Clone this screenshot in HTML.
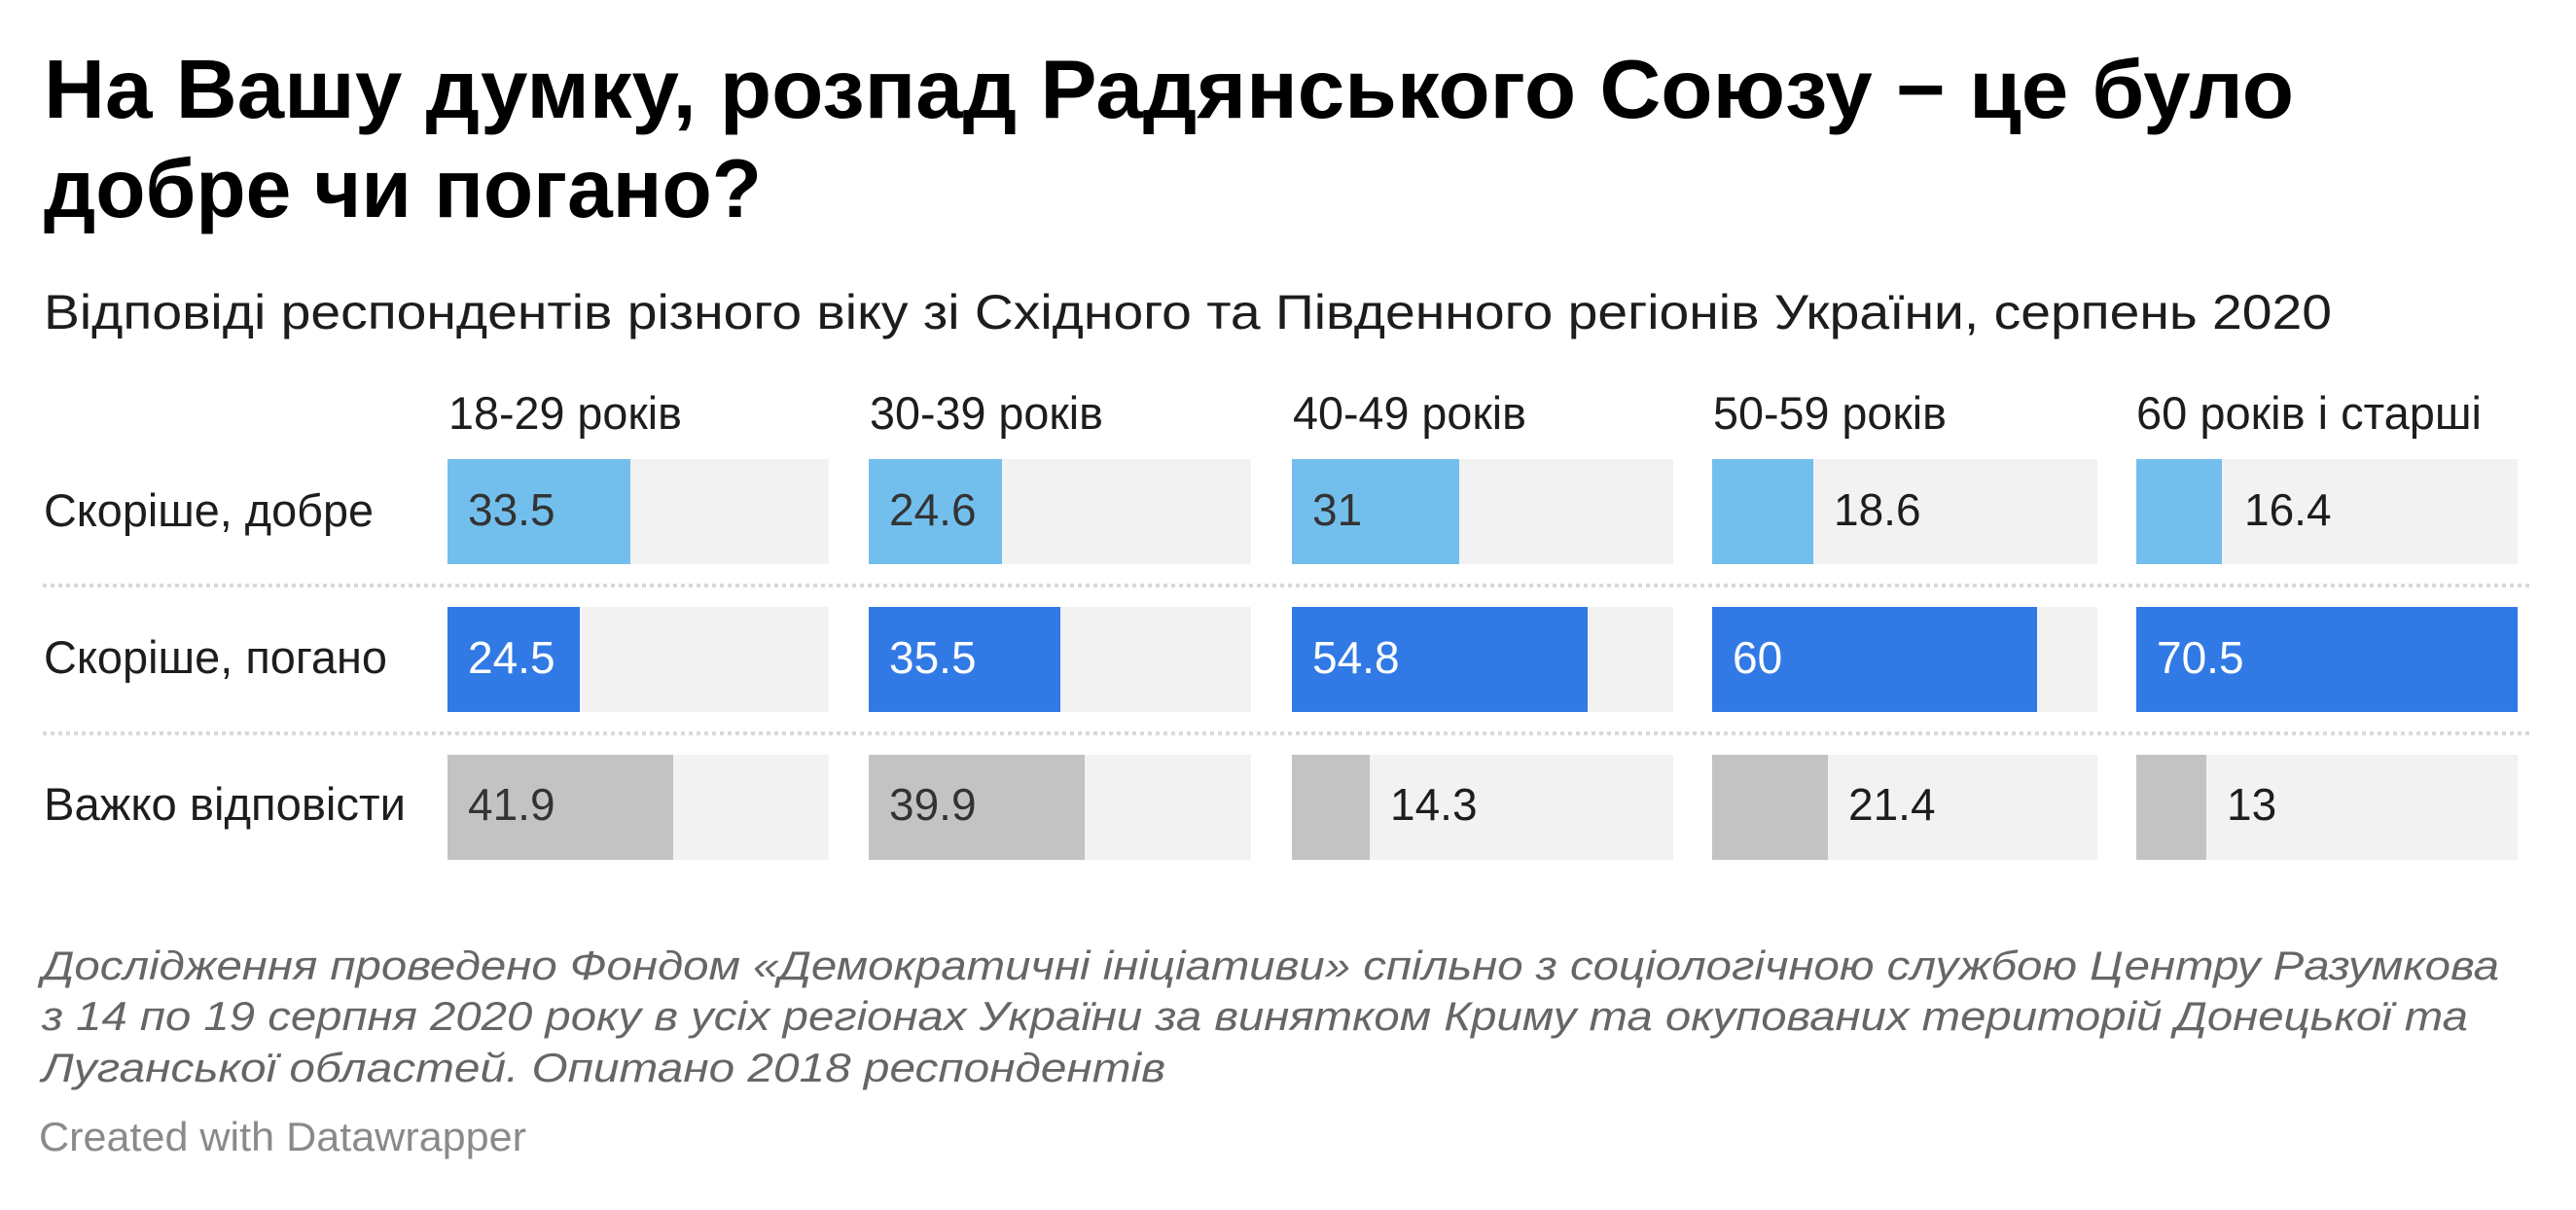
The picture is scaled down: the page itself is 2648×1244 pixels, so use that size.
<!DOCTYPE html>
<html>
<head>
<meta charset="utf-8">
<style>
  html, body { margin: 0; padding: 0; background: #ffffff; }
  body { width: 2648px; height: 1244px; overflow: hidden; }
  svg { display: block; }
  text { font-family: "Liberation Sans", "DejaVu Sans", sans-serif; }
</style>
</head>
<body>
<svg width="2648" height="1244" viewBox="0 0 2648 1244" xmlns="http://www.w3.org/2000/svg">
  <rect x="0" y="0" width="2648" height="1244" fill="#ffffff"/>

  <!-- Title -->
  <text x="45" y="121" font-size="85" font-weight="bold" fill="#000" textLength="2313" lengthAdjust="spacingAndGlyphs">На Вашу думку, розпад Радянського Союзу − це було</text>
  <text x="45" y="223" font-size="85" font-weight="bold" fill="#000" textLength="738" lengthAdjust="spacingAndGlyphs">добре чи погано?</text>

  <!-- Subtitle -->
  <text x="45" y="338" font-size="50" fill="#1d1d1d" textLength="2352" lengthAdjust="spacingAndGlyphs">Відповіді респондентів різного віку зі Східного та Південного регіонів України, серпень 2020</text>

  <!-- Column headers -->
  <g font-size="47" fill="#1d1d1d">
    <text x="461" y="441" textLength="240" lengthAdjust="spacingAndGlyphs">18-29 років</text>
    <text x="894" y="441" textLength="240" lengthAdjust="spacingAndGlyphs">30-39 років</text>
    <text x="1329" y="441" textLength="240" lengthAdjust="spacingAndGlyphs">40-49 років</text>
    <text x="1761" y="441" textLength="240" lengthAdjust="spacingAndGlyphs">50-59 років</text>
    <text x="2196" y="441" textLength="355" lengthAdjust="spacingAndGlyphs">60 років і старші</text>
  </g>

  <!-- Row labels -->
  <g font-size="47" fill="#1d1d1d">
    <text x="45" y="541" textLength="339" lengthAdjust="spacingAndGlyphs">Скоріше, добре</text>
    <text x="45" y="692" textLength="353" lengthAdjust="spacingAndGlyphs">Скоріше, погано</text>
    <text x="45" y="843" textLength="372" lengthAdjust="spacingAndGlyphs">Важко відповісти</text>
  </g>

  <!-- Separators -->
  <line x1="44" y1="602" x2="2604" y2="602" stroke="#d9d9d9" stroke-width="4" stroke-dasharray="4 4"/>
  <line x1="44" y1="754" x2="2604" y2="754" stroke="#d9d9d9" stroke-width="4" stroke-dasharray="4 4"/>

  <!-- Tracks -->
  <g fill="#f2f2f2">
    <rect x="460" y="472" width="392" height="108"/>
    <rect x="893" y="472" width="393" height="108"/>
    <rect x="1328" y="472" width="392" height="108"/>
    <rect x="1760" y="472" width="396" height="108"/>
    <rect x="2196" y="472" width="392" height="108"/>

    <rect x="460" y="624" width="392" height="108"/>
    <rect x="893" y="624" width="393" height="108"/>
    <rect x="1328" y="624" width="392" height="108"/>
    <rect x="1760" y="624" width="396" height="108"/>
    <rect x="2196" y="624" width="392" height="108"/>

    <rect x="460" y="776" width="392" height="108"/>
    <rect x="893" y="776" width="393" height="108"/>
    <rect x="1328" y="776" width="392" height="108"/>
    <rect x="1760" y="776" width="396" height="108"/>
    <rect x="2196" y="776" width="392" height="108"/>
  </g>

  <!-- Row 1 bars: Скоріше, добре -->
  <g fill="#72bfed">
    <rect x="460" y="472" width="188" height="108"/>
    <rect x="893" y="472" width="137" height="108"/>
    <rect x="1328" y="472" width="172" height="108"/>
    <rect x="1760" y="472" width="104" height="108"/>
    <rect x="2196" y="472" width="88" height="108"/>
  </g>
  <!-- Row 2 bars: Скоріше, погано -->
  <g fill="#317ae6">
    <rect x="460" y="624" width="136" height="108"/>
    <rect x="893" y="624" width="197" height="108"/>
    <rect x="1328" y="624" width="304" height="108"/>
    <rect x="1760" y="624" width="334" height="108"/>
    <rect x="2196" y="624" width="392" height="108"/>
  </g>
  <!-- Row 3 bars: Важко відповісти -->
  <g fill="#c3c3c3">
    <rect x="460" y="776" width="232" height="108"/>
    <rect x="893" y="776" width="222" height="108"/>
    <rect x="1328" y="776" width="80" height="108"/>
    <rect x="1760" y="776" width="119" height="108"/>
    <rect x="2196" y="776" width="72" height="108"/>
  </g>

  <!-- Value labels -->
  <g font-size="46">
    <!-- row 1 -->
    <text x="481" y="540" fill="#333333">33.5</text>
    <text x="914" y="540" fill="#333333">24.6</text>
    <text x="1349" y="540" fill="#333333">31</text>
    <text x="1885" y="540" fill="#1d1d1d">18.6</text>
    <text x="2307" y="540" fill="#1d1d1d">16.4</text>
    <!-- row 2 -->
    <text x="481" y="692" fill="#ffffff">24.5</text>
    <text x="914" y="692" fill="#ffffff">35.5</text>
    <text x="1349" y="692" fill="#ffffff">54.8</text>
    <text x="1781" y="692" fill="#ffffff">60</text>
    <text x="2217" y="692" fill="#ffffff">70.5</text>
    <!-- row 3 -->
    <text x="481" y="843" fill="#333333">41.9</text>
    <text x="914" y="843" fill="#333333">39.9</text>
    <text x="1429" y="843" fill="#1d1d1d">14.3</text>
    <text x="1900" y="843" fill="#1d1d1d">21.4</text>
    <text x="2289" y="843" fill="#1d1d1d">13</text>
  </g>

  <!-- Footer notes -->
  <g font-size="42" font-style="italic" fill="#666666">
    <text x="43" y="1007" textLength="2526" lengthAdjust="spacingAndGlyphs">Дослідження проведено Фондом «Демократичні ініціативи» спільно з соціологічною службою Центру Разумкова</text>
    <text x="43" y="1059" textLength="2494" lengthAdjust="spacingAndGlyphs">з 14 по 19 серпня 2020 року в усіх регіонах України за винятком Криму та окупованих територій Донецької та</text>
    <text x="43" y="1112" textLength="1155" lengthAdjust="spacingAndGlyphs">Луганської областей. Опитано 2018 респондентів</text>
  </g>
  <text x="40" y="1183" font-size="42" fill="#8a8a8a" textLength="501" lengthAdjust="spacingAndGlyphs">Created with Datawrapper</text>
</svg>
</body>
</html>
